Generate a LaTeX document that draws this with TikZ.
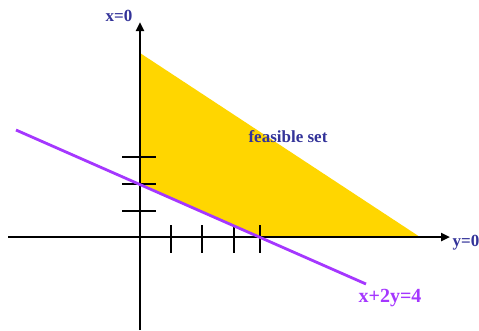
\documentclass[tikz,border=0pt]{standalone}
\usepackage{fontspec}
\setmainfont{Liberation Serif}
\usetikzlibrary{arrows.meta}
\definecolor{feas}{RGB}{255,214,0}
\definecolor{lbl}{RGB}{51,51,153}
\definecolor{purp}{RGB}{165,55,255}
\tikzset{
  axis/.style={line width=2.8pt,-{Triangle[length=9pt,width=8pt]}},
  tick/.style={line width=2.1pt},
  lab/.style={text=lbl,font=\bfseries\fontsize{17}{20}\selectfont,inner sep=0pt},
  cline/.style={purp,line width=2.8pt}
}
\begin{document}
\begin{tikzpicture}[x=1pt,y=-1pt]
\useasboundingbox (0,0) rectangle (479,330);
% coordinates
\coordinate (O) at (140,237);
\coordinate (top) at (140,53);
\coordinate (xr) at (420,237);
\coordinate (xi) at (261,237);
\coordinate (yi) at (140,184);
% feasible region
\fill[feas] (top) -- (xr) -- (xi) -- (yi) -- cycle;
% axes
\coordinate (hs) at (8,237);
\coordinate (he) at (450,237);
\coordinate (vs) at (140,330);
\coordinate (ve) at (140,22);
\draw[axis] (hs) -- (he);
\draw[axis] (vs) -- (ve);
% ticks on vertical axis
\foreach \yy/\n in {157/a,184/b,211/c}{
  \coordinate (tl\n) at (122,\yy);
  \coordinate (tr\n) at (156,\yy);
  \draw[tick] (tl\n) -- (tr\n);
}
% ticks on horizontal axis
\foreach \xx/\n in {171/a,202/b,234/c,260/d}{
  \coordinate (tt\n) at (\xx,225);
  \coordinate (tb\n) at (\xx,253);
  \draw[tick] (tt\n) -- (tb\n);
}
% constraint line
\coordinate (ls) at (16,130);
\coordinate (le) at (366,284);
\draw[cline] (ls) -- (le);
% labels
\node[lab] (lx) at (119,16) {x=0};
\node[lab] (ly) at (466,243) {y=0};
\node[lab] (lf) at (288,137) {feasible set};
\node[lab,text=purp,font=\bfseries\fontsize{20}{24}\selectfont] (lc) at (390,298) {x+2y=4};
\end{tikzpicture}
\end{document}
